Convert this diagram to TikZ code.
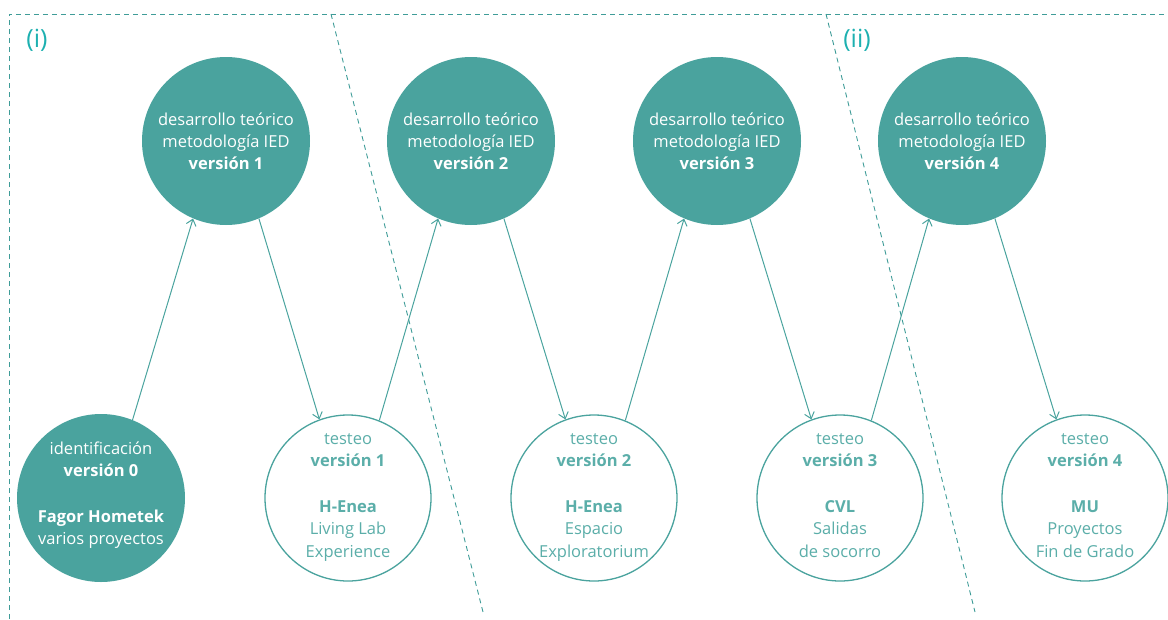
\documentclass[tikz,border=0pt]{standalone}
\usepackage{fontspec}
\setmainfont{Open Sans}
\usetikzlibrary{arrows.meta}
\definecolor{teal1}{HTML}{4AA39E}
\definecolor{tealtxt}{HTML}{5BAEA9}
\definecolor{tealdash}{HTML}{3F9C98}
\definecolor{teallbl}{HTML}{1DB0B0}
\tikzset{
  full/.style={circle,fill=teal1,minimum size=168pt,inner sep=0pt,text=white,align=center,font=\fontsize{16.5}{22}\selectfont},
  fulltext/.style={inner sep=0pt,text=white,align=center,font=\fontsize{16.5}{22.5}\selectfont},
  open/.style={circle,draw=teal1,line width=1.3pt,fill=white,minimum size=166pt,inner sep=0pt,text=tealtxt,align=center,font=\fontsize{16.5}{22.5}\selectfont},
  opentext/.style={inner sep=0pt,text=tealtxt,align=center,font=\fontsize{16.5}{22.5}\selectfont},
  link/.style={draw=teal1,line width=1pt,-{Straight Barb[length=6pt,width=10pt]}},
  frame/.style={draw=tealdash,line width=0.9pt,dash pattern=on 5pt off 4pt},
  lbl/.style={text=teallbl,font=\fontsize{25}{25}\selectfont,inner sep=0pt}
}
\begin{document}
\begin{tikzpicture}[x=1pt,y=-1pt]
\useasboundingbox (0,0) rectangle (1168,619);
% frame
\coordinate (fl) at (9,619);
\coordinate (ftl) at (9,14);
\coordinate (ftr) at (1168,14);
\coordinate (d1a) at (331,14);
\coordinate (d1b) at (483,612);
\coordinate (d2a) at (826,14);
\coordinate (d2b) at (975,612);
\draw[frame] (fl) -- (ftl) -- (ftr);
\draw[frame] (d1a) -- (d1b);
\draw[frame] (d2a) -- (d2b);
\node[lbl] (li) at (37,40) {(i)};
\node[lbl] (lii) at (857,40) {(ii)};
% top circles
\node[full] (t1) at (226,141) {desarrollo teórico\\metodología IED\\\textbf{versión 1}};
\node[full] (t2) at (471,141) {desarrollo teórico\\metodología IED\\\textbf{versión 2}};
\node[full] (t3) at (717,141) {desarrollo teórico\\metodología IED\\\textbf{versión 3}};
\node[full] (t4) at (962,141) {desarrollo teórico\\metodología IED\\\textbf{versión 4}};
% bottom circles
\node[full] (b0) at (101,498) {};
\node[fulltext] (b0t) at (101,495) {\strut identificación\\\textbf{versión 0}\\[23pt]\textbf{Fagor Hometek}\\varios proyectos\strut};
\node[open] (b1) at (348,498) {};
\node[open] (b2) at (594,498) {};
\node[open] (b3) at (840,498) {};
\node[open] (b4) at (1085,498) {};
\node[opentext] (b1t) at (348,496) {\strut testeo\\\textbf{versión 1}\\[23pt]\textbf{H-Enea}\\Living Lab\\Experience\strut};
\node[opentext] (b2t) at (594,496) {\strut testeo\\\textbf{versión 2}\\[23pt]\textbf{H-Enea}\\Espacio\\Exploratorium\strut};
\node[opentext] (b3t) at (840,496) {\strut testeo\\\textbf{versión 3}\\[23pt]\textbf{CVL}\\Salidas\\de socorro\strut};
\node[opentext] (b4t) at (1085,496) {\strut testeo\\\textbf{versión 4}\\[23pt]\textbf{MU}\\Proyectos\\Fin de Grado\strut};
% arrows
\draw[link] (b0.68) -- (t1.247);
\draw[link] (t1.293) -- (b1.110);
\draw[link] (b1.68) -- (t2.247);
\draw[link] (t2.293) -- (b2.110);
\draw[link] (b2.68) -- (t3.247);
\draw[link] (t3.293) -- (b3.110);
\draw[link] (b3.68) -- (t4.247);
\draw[link] (t4.293) -- (b4.110);
\end{tikzpicture}
\end{document}
